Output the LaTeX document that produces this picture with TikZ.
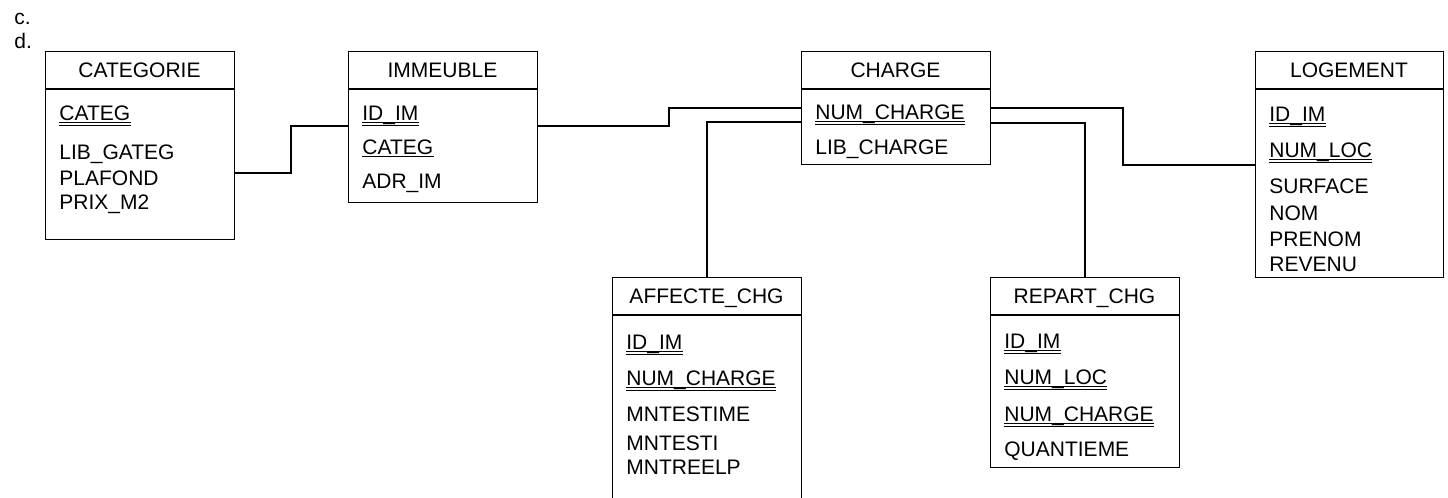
\documentclass[tikz,border=0pt]{standalone}
\usepackage{fontspec}
\setmainfont{Liberation Sans}
\begin{document}
\begin{tikzpicture}[x=0.5pt,y=-0.5pt,
  ent/.style={draw=black,line width=0.65pt,rectangle,inner sep=0pt,anchor=north west,minimum width=94.5pt},
  ttl/.style={anchor=base,inner sep=0pt,font=\fontsize{10.5}{12}\selectfont},
  attr/.style={anchor=base west,inner sep=0pt,font=\fontsize{10.5}{12}\selectfont},
  lnk/.style={draw=black,line width=0.6pt},
  uline/.style={draw=black,line width=0.45pt}]
\newcommand\ulone[1]{\draw[uline] ([yshift=-1pt]#1.base west) -- ([yshift=-1pt]#1.base east);}
\newcommand\ultwo[1]{\ulone{#1}\draw[uline] ([yshift=-2.5pt]#1.base west) -- ([yshift=-2.5pt]#1.base east);}
\useasboundingbox (0,0) rectangle (1448,498);
\clip (0,0) rectangle (1448,498);
\fill[white] (0,0) rectangle (1448,498);

% list labels
\node[attr] (lc) at (14,25) {c.};
\node[attr] (ld) at (14,48) {d.};

% boxes
\node[ent,minimum height=94pt] (categ) at (45,51) {};
\node[ent,minimum height=75.5pt] (immeuble) at (348,51) {};
\node[ent,minimum height=56.5pt] (charge) at (801,51) {};
\node[ent,minimum width=94pt,minimum height=113pt] (logement) at (1255,51) {};
\node[ent,minimum height=120pt] (affecte) at (612,277) {};
\node[ent,minimum height=95pt] (repart) at (990,277) {};

% header dividers
\foreach \b in {categ,immeuble,charge,logement,affecte,repart}{
  \draw[line width=0.65pt] ([yshift=-19pt]\b.north west) -- ([yshift=-19pt]\b.north east);
}

% titles
\node[ttl] (tcateg) at (139.5,77) {CATEGORIE};
\node[ttl] (timm) at (442.5,77) {IMMEUBLE};
\node[ttl] (tcharge) at (895.5,77) {CHARGE};
\node[ttl] (tlog) at (1349,77) {LOGEMENT};
\node[ttl] (taff) at (706.5,303) {AFFECTE\_CHG};
\node[ttl] (trep) at (1084.5,303) {REPART\_CHG};

% CATEGORIE
\node[attr] (c1) at (59,120.5) {CATEG}; \ultwo{c1}
\node[attr] (c2) at (59,159.5) {LIB\_GATEG};
\node[attr] (c3) at (59,185.5) {PLAFOND};
\node[attr] (c4) at (59,209.5) {PRIX\_M2};

% IMMEUBLE
\node[attr] (i1) at (362,120.5) {ID\_IM}; \ultwo{i1}
\node[attr] (i2) at (362,154.5) {CATEG}; \ulone{i2}
\node[attr] (i3) at (362,188.5) {ADR\_IM};

% CHARGE
\node[attr] (h1) at (815,119.5) {NUM\_CHARGE}; \ultwo{h1}
\node[attr] (h2) at (815,154.5) {LIB\_CHARGE};

% LOGEMENT
\node[attr] (g1) at (1269,121.5) {ID\_IM}; \ultwo{g1}
\node[attr] (g2) at (1269,157.5) {NUM\_LOC}; \ultwo{g2}
\node[attr] (g3) at (1269,193.5) {SURFACE};
\node[attr] (g4) at (1269,220.5) {NOM};
\node[attr] (g5) at (1269,246.5) {PRENOM};
\node[attr] (g6) at (1269,271.5) {REVENU};

% AFFECTE_CHG
\node[attr] (a1) at (626,349.5) {ID\_IM}; \ultwo{a1}
\node[attr] (a2) at (626,385.5) {NUM\_CHARGE}; \ultwo{a2}
\node[attr] (a3) at (626,421.5) {MNTESTIME};
\node[attr] (a4) at (626,450.5) {MNTESTI};
\node[attr] (a5) at (626,474.5) {MNTREELP};

% REPART_CHG
\node[attr] (r1) at (1004,348.5) {ID\_IM}; \ultwo{r1}
\node[attr] (r2) at (1004,384.5) {NUM\_LOC}; \ultwo{r2}
\node[attr] (r3) at (1004,421.5) {NUM\_CHARGE}; \ultwo{r3}
\node[attr] (r4) at (1004,456.5) {QUANTIEME};

% connectors
\draw[lnk] (categ.east |- 0,173) -| (291,126) -- (immeuble.west |- 0,126);
\draw[lnk] (immeuble.east |- 0,126) -| (669,108) -- (charge.west |- 0,108);
\draw[lnk] (charge.west |- 0,122) -| (affecte.north -| 707,0);
\draw[lnk] (charge.east |- 0,108) -| (1123,165) -- (logement.west |- 0,165);
\draw[lnk] (charge.east |- 0,123) -| (repart.north -| 1085,0);
\end{tikzpicture}
\end{document}
